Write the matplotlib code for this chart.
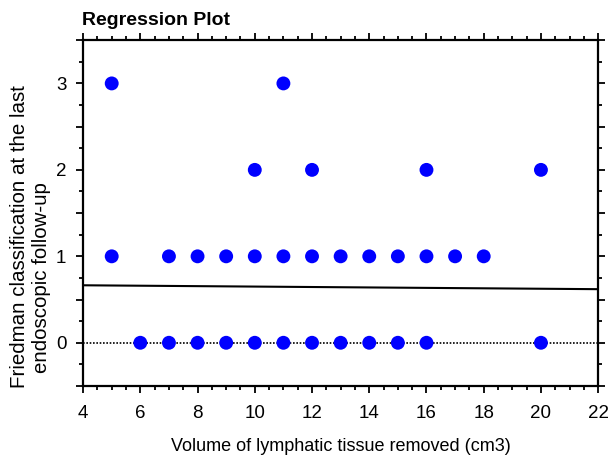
import numpy as np
import matplotlib
matplotlib.use('Agg')
import matplotlib.pyplot as plt
from matplotlib.ticker import MultipleLocator, FuncFormatter

plt.rcParams['font.family'] = ['Liberation Sans', 'DejaVu Sans']

# observed points (volume removed, Friedman class)
vol_3 = [5, 11]
vol_2 = [10, 12, 16, 20]
vol_1 = [5, 7, 8, 9, 10, 11, 12, 13, 14, 15, 16, 17, 18]
vol_0 = [6, 7, 8, 9, 10, 11, 12, 13, 14, 15, 16, 20]

# fitted regression line endpoints
fit_x = [4, 22]
fit_y = [0.665, 0.62]

x = np.array(vol_3 + vol_2 + vol_1 + vol_0)
y = np.array([3] * len(vol_3) + [2] * len(vol_2) + [1] * len(vol_1) + [0] * len(vol_0))

W, H = 611, 462
fig = plt.figure(figsize=(W / 100, H / 100), dpi=100)
ax = fig.add_axes([0.136, 0.1645, 0.843, 0.7485])

ax.axhline(0, color='black', linestyle=(0, (1, 1)), linewidth=1.2, zorder=1)
ax.plot(fit_x, fit_y, color='black', linewidth=1.5, zorder=2)
ax.scatter(x, y, s=100, color='#0000ff', edgecolors='none', zorder=3)

ax.set_xlim(4, 22)
ax.set_ylim(-0.5, 3.5)

ax.xaxis.set_major_locator(MultipleLocator(2))
ax.xaxis.set_minor_locator(MultipleLocator(0.5))
ax.yaxis.set_major_locator(MultipleLocator(0.5))
ax.yaxis.set_minor_locator(MultipleLocator(0.25))
ax.yaxis.set_major_formatter(FuncFormatter(lambda v, p: f'{int(v)}' if float(v).is_integer() else ''))

ax.tick_params(which='both', direction='out', top=True, right=True, width=1.3, labelsize=13.5)
ax.tick_params(which='major', length=5)
ax.tick_params(which='minor', length=3)
ax.tick_params(axis='x', pad=9)
ax.tick_params(axis='y', pad=7)
for s in ax.spines.values():
    s.set_linewidth(1.6)

ax.set_xlabel('Volume of lymphatic tissue removed (cm3)', fontsize=13, labelpad=11)

# the two y-label lines are not centred on each other in the original
fig.text(20 / W, 1 - 237 / H, 'Friedman classification at the last', fontsize=14.8,
         rotation=90, ha='center', va='center')
fig.text(42 / W, 1 - 278 / H, 'endoscopic follow-up', fontsize=14.8,
         rotation=90, ha='center', va='center')

fig.text(82 / W, 1 - 25 / H, 'Regression Plot', fontsize=14, fontweight='bold',
         va='baseline')

fig.savefig('out.png', dpi=100)
